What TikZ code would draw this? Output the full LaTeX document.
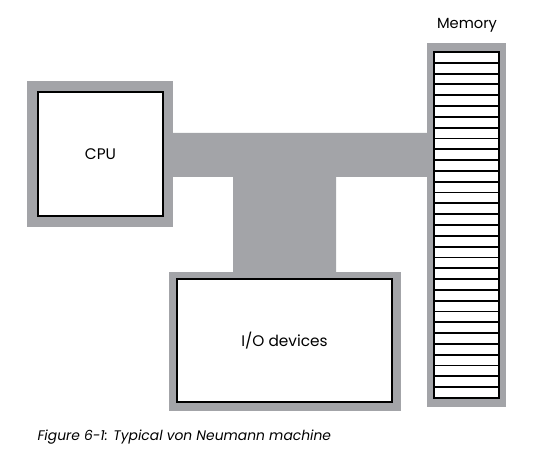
\documentclass[tikz,border=0pt]{standalone}
\usepackage{fontspec}
\setmainfont{Poppins}
\definecolor{framegray}{RGB}{163,164,168}
\tikzset{every picture/.style={line width=0.75pt}}
\tikzset{
  unitbox/.style={draw=black, line width=1.5pt, fill=white, inner sep=0pt, font=\fontsize{11.5}{13}\selectfont},
  lbl/.style={inner sep=0pt, font=\fontsize{11}{13}\selectfont}
}

\begin{document}
\begin{tikzpicture}[x=0.75pt,y=0.75pt,yscale=-1,xscale=1]
	\useasboundingbox (0,0) rectangle (559,473);

	%Bus (horizontal and vertical)
	\fill [framegray] (173,133) -- (427,133) -- (427,177) -- (336,177) -- (336,272) -- (233,272) -- (233,177) -- (173,177) -- cycle ;

	%Frames
	\fill [framegray] (27,81) rectangle (173,227) ;
	\fill [framegray] (169,272) rectangle (401,411) ;
	\fill [framegray] (427,43) rectangle (506,407) ;

	%CPU
	\node [unitbox, minimum width=93.75pt, minimum height=93pt] (cpu) at (100.5,154) {CPU};
	%I/O devices
	\node [unitbox, minimum width=161.25pt, minimum height=92.25pt] (io) at (284.5,340.5) {I/O devices};
	%Memory
	\node [unitbox, minimum width=48.75pt, minimum height=259.5pt] (mem) at (466.5,225) {};
	\foreach \k in {1,...,31}
		\draw [line width=1.4pt] (434,52+\k*10.8125) -- (499,52+\k*10.8125) ;

	% Text Node
	\node [lbl] (memlabel) at (467,25) {Memory};
	% Text Node
	\node [lbl, anchor=west, font=\fontsize{10.4}{12}\selectfont\itshape] (caption) at (37,437) {Figure 6-1: Typical von Neumann machine};

\end{tikzpicture}
\end{document}
